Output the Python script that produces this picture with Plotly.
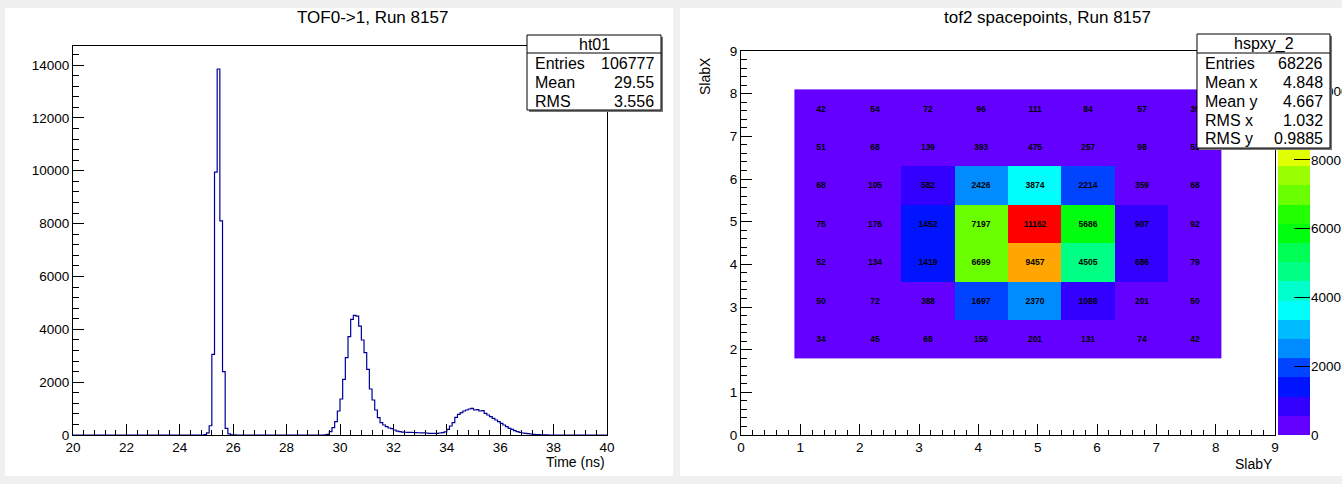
import colorsys
import plotly.graph_objects as go

W, H = 1342, 484

# ---------------- Left panel: TOF0->1 time histogram ----------------
left_title = "TOF0->1, Run 8157"
time_range = [20.0, 40.0]
bin_width = 0.1
first_bin_low = 24.8
counts = [
    0, 15, 80, 350, 3050, 9950, 13850, 8100, 2400, 250, 40, 10, 5,          # 24.8 - 26.0
    0, 0, 0, 0, 0, 0, 0, 0, 0, 0, 0, 0, 0, 0, 0, 0, 0,                      # 26.1 - 27.7
    0, 0, 0, 0, 0, 0, 0, 0, 0, 0, 0, 0, 0, 0, 0, 0,                         # 27.8 - 29.3
    10, 25, 126, 277, 504, 908, 1362, 2106, 2925, 3720, 4376, 4527, 4502,   # 29.4 - 30.6
    4123, 3594, 3115, 2484, 1740, 1324, 946, 656, 467, 378, 315, 265, 240,  # 30.7 - 31.9
    190, 150, 126, 110, 105, 100, 98, 95, 88, 85, 82, 80, 75, 65, 60, 58,   # 32.0 - 33.5
    62, 75, 90, 120, 214, 340, 466, 668, 782, 845, 908, 946, 984, 1009,     # 33.6 - 34.9
    946, 958, 908, 920, 820, 757, 694, 630, 567, 504, 441, 378, 315, 252,   # 35.0 - 36.3
    214, 164, 126, 100, 76, 63, 50, 38, 25, 15, 12, 8, 5, 3, 0,             # 36.4 - 37.8
]
left_xticks = [20, 22, 24, 26, 28, 30, 32, 34, 36, 38, 40]
left_yticks = [0, 2000, 4000, 6000, 8000, 10000, 12000, 14000]
left_stats_name = "ht01"
left_stats = [("Entries", "106777"), ("Mean", "29.55"), ("RMS", "3.556")]

# ---------------- Right panel: tof2 spacepoints ----------------
right_title = "tof2 spacepoints, Run 8157"
slabY_edges = [0.9, 1.8, 2.7, 3.6, 4.5, 5.4, 6.3, 7.2, 8.1]
slabX_edges = [1.8, 2.7, 3.6, 4.5, 5.4, 6.3, 7.2, 8.1]
cells = [  # rows from bottom (SlabX 1.8-2.7) to top
    [34, 45, 68, 156, 201, 131, 74, 42],
    [50, 72, 388, 1697, 2370, 1088, 201, 50],
    [52, 134, 1419, 6699, 9457, 4505, 686, 79],
    [75, 176, 1452, 7197, 11162, 5686, 907, 92],
    [68, 105, 582, 2426, 3874, 2214, 359, 68],
    [51, 68, 139, 393, 475, 257, 98, 53],
    [42, 54, 72, 96, 111, 84, 57, 35],
]
z_max = 11162
right_ticks = [0, 1, 2, 3, 4, 5, 6, 7, 8, 9]
cbar_ticks = [0, 2000, 4000, 6000, 8000, 10000]
right_stats_name = "hspxy_2"
right_stats = [("Entries", "68226"), ("Mean x", "4.848"), ("Mean y", "4.667"),
               ("RMS x", "1.032"), ("RMS y", "0.9885")]

FONT = "Liberation Sans, Arial, sans-serif"


def fx(p):
    return p / W


def fy(p):
    return 1 - p / H


# ROOT "pretty" palette, 20 contour levels
n_levels = 20
level_colors = []
for k in range(n_levels):
    i = int((k + 0.99) * 50 / n_levels)
    hue = 0.0 if i >= 49 else 280 - (i + 1) * 5.6
    r, g, b = colorsys.hls_to_rgb(hue / 360.0, 0.5, 1.0)
    level_colors.append("rgb(%d,%d,%d)" % (round(r * 255), round(g * 255), round(b * 255)))
colorscale = []
for k, c in enumerate(level_colors):
    colorscale.append([k / n_levels, c])
    colorscale.append([(k + 1) / n_levels, c])

# histogram outline over full axis range
n_total = int(round((time_range[1] - time_range[0]) / bin_width))
full = [0] * n_total
start_idx = int(round((first_bin_low - time_range[0]) / bin_width))
for j, v in enumerate(counts):
    full[start_idx + j] = v
edges = [round(time_range[0] + j * bin_width, 4) for j in range(n_total + 1)]

fig = go.Figure()
fig.add_trace(go.Scatter(
    x=edges, y=full + [full[-1]], mode="lines",
    line=dict(shape="hv", color="#000099", width=1.2),
    hoverinfo="skip", showlegend=False, xaxis="x", yaxis="y"))

text = [["<b>%d</b>" % v for v in row] for row in cells]
fig.add_trace(go.Heatmap(
    z=cells, x=slabY_edges, y=slabX_edges, zmin=0, zmax=z_max,
    colorscale=colorscale, text=text, texttemplate="%{text}",
    textfont=dict(size=8.5, color="black", family=FONT),
    xaxis="x2", yaxis="y2", hoverinfo="skip", showscale=False))

# palette bar drawn as its own small heatmap (so the stats box can cover it)
level_step = z_max / n_levels
pal_edges = [k * level_step for k in range(n_levels + 1)]
pal_z = [[(k + 0.5) * level_step] for k in range(n_levels)]
fig.add_trace(go.Heatmap(
    z=pal_z, x=[0, 1], y=pal_edges, zmin=0, zmax=z_max, colorscale=colorscale,
    xaxis="x3", yaxis="y3", hoverinfo="skip", showscale=False))

axis_common = dict(showgrid=False, zeroline=False, showline=True, linecolor="black",
                   linewidth=1, mirror=True, ticks="inside", tickcolor="black",
                   tickfont=dict(size=13.5, color="black", family=FONT))

fig.update_layout(
    width=W, height=H, margin=dict(l=0, r=0, t=0, b=0, autoexpand=False),
    paper_bgcolor="#f0f0f0", plot_bgcolor="white",
    font=dict(family=FONT, color="black"),
    xaxis=dict(domain=[fx(73), fx(607)], range=time_range, anchor="y",
               tickvals=left_xticks, ticktext=[str(v) for v in left_xticks], ticklen=11,
               minor=dict(dtick=0.4, tick0=20, ticklen=5.5, ticks="inside", tickcolor="black"),
               **axis_common),
    yaxis=dict(domain=[fy(435), fy(46)], range=[0, 14720], anchor="x",
               tickvals=left_yticks, ticktext=[str(v) for v in left_yticks], ticklen=11,
               minor=dict(dtick=400, tick0=0, ticklen=5.5, ticks="inside", tickcolor="black"),
               **axis_common),
    xaxis2=dict(domain=[fx(741), fx(1275)], range=[0, 9], anchor="y2",
                tickvals=right_ticks, ticktext=[str(v) for v in right_ticks], ticklen=11,
                minor=dict(dtick=0.2, tick0=0, ticklen=5.5, ticks="inside", tickcolor="black"),
                **axis_common),
    yaxis2=dict(domain=[fy(435), fy(51)], range=[0, 9], anchor="x2",
                tickvals=right_ticks, ticktext=[str(v) for v in right_ticks], ticklen=11,
                minor=dict(dtick=0.2, tick0=0, ticklen=5.5, ticks="inside", tickcolor="black"),
                **axis_common),
    xaxis3=dict(domain=[fx(1278), fx(1310)], range=[0, 1], anchor="y3",
                visible=False, fixedrange=True),
    yaxis3=dict(domain=[fy(435), fy(51)], range=[0, z_max], anchor="x3", side="right",
                showgrid=False, zeroline=False, showline=False,
                ticks="inside", ticklen=16, tickcolor="black", tickwidth=1,
                tickvals=cbar_ticks, ticktext=[str(v) for v in cbar_ticks],
                tickfont=dict(size=13.5, color="black", family=FONT)),
)

shapes = [
    dict(type="rect", xref="paper", yref="paper", x0=fx(5), x1=fx(673), y0=fy(476), y1=fy(8),
         fillcolor="white", line=dict(width=0), layer="below"),
    dict(type="rect", xref="paper", yref="paper", x0=fx(680), x1=fx(1342), y0=fy(476), y1=fy(8),
         fillcolor="white", line=dict(width=0), layer="below"),
]
annotations = [
    dict(text=left_title, x=fx(372), y=fy(18), xref="paper", yref="paper",
         showarrow=False, font=dict(size=17, family=FONT), xanchor="center", yanchor="middle"),
    dict(text=right_title, x=fx(1047), y=fy(18), xref="paper", yref="paper",
         showarrow=False, font=dict(size=17, family=FONT), xanchor="center", yanchor="middle"),
    dict(text="Time (ns)", x=fx(607), y=fy(462), xref="paper", yref="paper",
         showarrow=False, font=dict(size=14, family=FONT), xanchor="right", yanchor="middle"),
    dict(text="SlabY", x=fx(1275), y=fy(464), xref="paper", yref="paper",
         showarrow=False, font=dict(size=14, family=FONT), xanchor="right", yanchor="middle"),
    dict(text="SlabX", x=fx(705), y=fy(76), xref="paper", yref="paper", textangle=-90,
         showarrow=False, font=dict(size=14, family=FONT), xanchor="center", yanchor="middle"),
]


def stats_box(x0, x1, y0, y1, yline, name, rows, row_y):
    shapes.append(dict(type="rect", xref="paper", yref="paper",
                       x0=fx(x0 + 2), x1=fx(x1 + 2), y0=fy(y1 + 2), y1=fy(y0 + 2),
                       fillcolor="#777777", line=dict(width=0), layer="above"))
    shapes.append(dict(type="rect", xref="paper", yref="paper",
                       x0=fx(x0), x1=fx(x1), y0=fy(y1), y1=fy(y0),
                       fillcolor="white", line=dict(color="black", width=1), layer="above"))
    shapes.append(dict(type="line", xref="paper", yref="paper",
                       x0=fx(x0), x1=fx(x1), y0=fy(yline), y1=fy(yline),
                       line=dict(color="black", width=1), layer="above"))
    annotations.append(dict(text=name, x=fx((x0 + x1) / 2), y=fy((y0 + yline) / 2 + 0.5),
                            xref="paper", yref="paper", showarrow=False,
                            font=dict(size=16, family=FONT), xanchor="center", yanchor="middle"))
    for (lab, val), yy in zip(rows, row_y):
        annotations.append(dict(text=lab, x=fx(x0 + 6), y=fy(yy), xref="paper", yref="paper",
                                showarrow=False, font=dict(size=16, family=FONT),
                                xanchor="left", yanchor="middle"))
        annotations.append(dict(text=val, x=fx(x1 - 5), y=fy(yy), xref="paper", yref="paper",
                                showarrow=False, font=dict(size=16, family=FONT),
                                xanchor="right", yanchor="middle"))


stats_box(527, 661, 35, 110, 53, left_stats_name, left_stats, [63, 82, 101])
stats_box(1197, 1330, 34, 148, 53, right_stats_name, right_stats, [63, 82, 101, 120, 138])

fig.update_layout(shapes=shapes, annotations=annotations)
fig.write_html(
    "out.html",
    config={"displayModeBar": False},
    post_script="document.body.style.margin='0px';document.body.style.overflow='hidden';",
)
